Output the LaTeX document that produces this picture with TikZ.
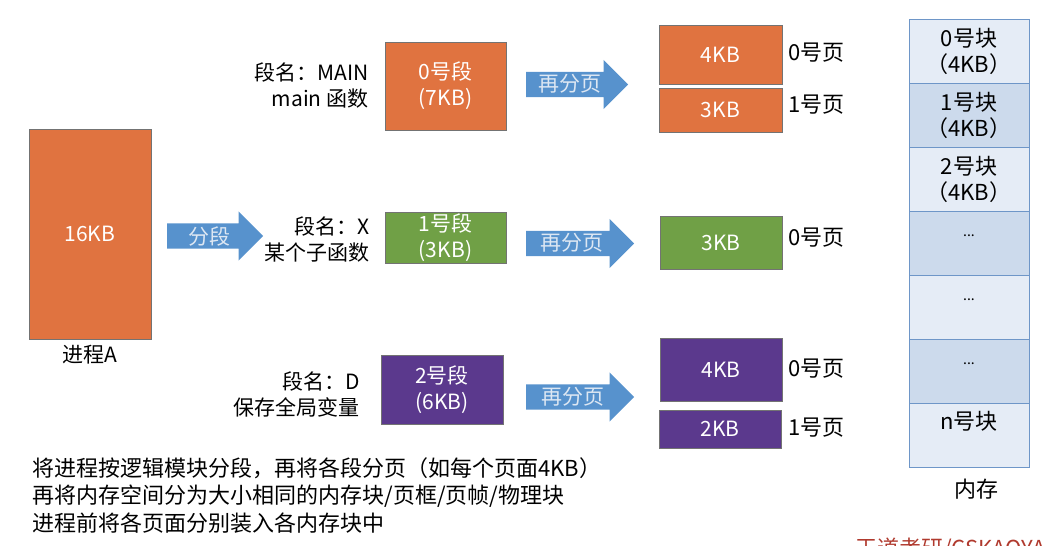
\documentclass[tikz,border=0pt]{standalone}
\usepackage{fontspec}
\setmainfont{Noto Sans CJK SC}
\usetikzlibrary{shapes.arrows}
\definecolor{segorange}{HTML}{E07340}
\definecolor{seggreen}{HTML}{70A046}
\definecolor{segpurple}{HTML}{5B398D}
\definecolor{arrowblue}{HTML}{5792CD}
\definecolor{arrowtext}{HTML}{DDE7F3}
\definecolor{memlight}{HTML}{E5ECF6}
\definecolor{memdark}{HTML}{CCDAEC}
\definecolor{memline}{HTML}{6E96C8}
\definecolor{markred}{HTML}{B03A2E}
\tikzset{
  blk/.style={draw=black!55, line width=0.8pt, text=white, inner sep=0pt, align=center},
  fatarrow/.style={single arrow, fill=arrowblue, draw=none, inner sep=0pt, anchor=tail,
    text height=25pt, text depth=0pt, single arrow head extend=12pt, minimum height=#1},
  arrowlbl/.style={text=arrowtext},
  seglbl/.style={anchor=east, align=right},
  pagelbl/.style={anchor=west, font=\fontsize{22}{26}\selectfont},
  memcell/.style={draw=memline, line width=0.8pt, minimum width=120pt, minimum height=64pt, inner sep=0pt},
  memtext/.style={align=center, font=\fontsize{22}{26}\selectfont}
}
\begin{document}
\begin{tikzpicture}[x=1pt,y=-1pt,font=\fontsize{21}{26}\selectfont]
\useasboundingbox (0,0) rectangle (1044,546);
\clip (0,0) rectangle (1044,546);

% process
\node[blk, fill=segorange, minimum width=122pt, minimum height=210pt] (proc) at (90,234) {16KB};
\node (procname) at (90,355) {进程A};

\node[fatarrow=96pt] (cut) at (167,236) {};
\node[arrowlbl] at (209,236) {分段};

% segments
\node[blk, fill=segorange, minimum width=121pt, minimum height=88pt] (seg0) at (445.5,86) {0号段\\(7KB)};
\node[blk, fill=seggreen, minimum width=121pt, minimum height=51pt] (seg1) at (445.5,237.5) {1号段\\(3KB)};
\node[blk, fill=segpurple, minimum width=122pt, minimum height=69pt] (seg2) at (442,389.5) {2号段\\(6KB)};

\node[seglbl] (name0) at (372,85) {段名：MAIN\\main 函数};
\node[seglbl] (name1) at (373,239) {段名：X\\某个子函数};
\node[seglbl] (name2) at (363,394) {段名：D\\保存全局变量};

\node[fatarrow=102pt] (split0) at (526,84.5) {};
\node[fatarrow=108pt] (split1) at (526,243.5) {};
\node[fatarrow=108pt] (split2) at (526,397) {};
\foreach \y/\x in {84/570, 243/572, 397/573}
  \node[arrowlbl] at (\x,\y) {再分页};

% pages
\node[blk, fill=segorange, minimum width=123pt, minimum height=59pt] (page00) at (720.5,54.5) {4KB};
\node[blk, fill=segorange, minimum width=123pt, minimum height=44pt] (page01) at (720.5,110) {3KB};
\node[blk, fill=seggreen, minimum width=122pt, minimum height=53pt] (page10) at (721,242.5) {3KB};
\node[blk, fill=segpurple, minimum width=122pt, minimum height=63pt] (page20) at (721,369.5) {4KB};
\node[blk, fill=segpurple, minimum width=122pt, minimum height=38pt] (page21) at (720,429) {2KB};

\foreach \y/\txt in {53/0号页, 105/1号页, 238/0号页, 369/0号页, 428/1号页}
  \node[pagelbl] at (785,\y) {\txt};

% memory
\foreach \i/\shade in {0/memlight, 1/memdark, 2/memlight, 3/memdark, 4/memlight, 5/memdark, 6/memlight}
  \node[memcell, fill=\shade] (m\i) at (969,{51+64*\i}) {};
\node[memtext] at (m0) {0号块\\（4KB）};
\node[memtext] at (m1) {1号块\\（4KB）};
\node[memtext] at (m2) {2号块\\（4KB）};
\foreach \y in {236, 300, 364}
  \node[anchor=base, font=\fontsize{14}{16}\selectfont] at (969,\y) {...};
\node[memtext] at (969,421) {n号块};
\node[memtext] (memname) at (976,489) {内存};

% notes
\node[anchor=west, align=left, font=\fontsize{22}{27.5}\selectfont] (notes) at (29,495.5)
  {将进程按逻辑模块分段，再将各段分页（如每个页面4KB）\\再将内存空间分为大小相同的内存块/页框/页帧/物理块\\进程前将各页面分别装入各内存块中};

\node[anchor=north west, text=markred, font=\fontsize{22}{26}\selectfont, inner sep=0pt] (mark) at (855,538) {王道考研/CSKAOYAN};
\end{tikzpicture}
\end{document}
